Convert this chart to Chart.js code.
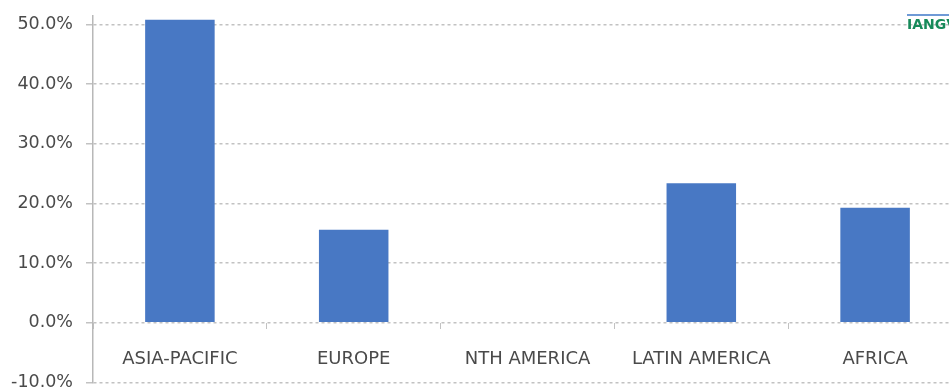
<!DOCTYPE html>
<html>
<head>
<meta charset="utf-8">
<title>Regional share</title>
<script src="https://cdn.jsdelivr.net/npm/chart.js@4.4.1/dist/chart.umd.min.js"></script>
<style>
  html, body { margin: 0; padding: 0; background: #ffffff; overflow: hidden; }
  #wrap { width: 975px; height: 414px; margin-top: -8px; }
</style>
</head>
<body>
<div id="wrap"><canvas id="c" width="975" height="414"></canvas></div>
<script>
// Regions along the horizontal axis
const regions = ['ASIA-PACIFIC', 'EUROPE', 'NTH AMERICA', 'LATIN AMERICA', 'AFRICA'];
// Share per region, in percent
const shares = [50.8, 15.6, 0, 23.4, 19.3];
// Value axis range and tick step, in percent
const axisMin = -10;
const axisMax = 51.5;
const tickStep = 10;

const GRID = '#c2c2c2';
const TEXT = '#4a4a4a';

// Small brand mark in the top-right corner (canvas is shifted up by 8px)
const brandMark = {
  id: 'brandMark',
  afterDraw(chart) {
    const ctx = chart.ctx;
    ctx.save();
    ctx.fillStyle = '#6f9ad6';
    ctx.fillRect(907, 22, 70, 2);
    ctx.fillStyle = '#178a5a';
    ctx.font = 'bold 14px "DejaVu Sans"';
    ctx.textAlign = 'left';
    ctx.textBaseline = 'alphabetic';
    ctx.fillText('IANGV', 907, 37);
    ctx.restore();
  }
};

new Chart(document.getElementById('c'), {
  type: 'bar',
  data: {
    labels: regions,
    datasets: [{
      data: shares,
      backgroundColor: '#4878c4',
      borderWidth: 0,
      categoryPercentage: 0.4,
      barPercentage: 1.0
    }]
  },
  options: {
    responsive: false,
    animation: false,
    layout: { padding: { top: 3.5, bottom: 7.5, left: 0, right: 13 } },
    plugins: { legend: { display: false }, tooltip: { enabled: false } },
    scales: {
      x: {
        type: 'category',
        position: { y: 0 },
        offset: true,
        border: { display: false },
        grid: {
          offset: true,
          drawOnChartArea: false,
          drawTicks: true,
          tickLength: 6,
          color: GRID,
          lineWidth: 1
        },
        ticks: {
          color: TEXT,
          padding: 20,
          maxRotation: 0,
          autoSkip: false,
          font: { family: '"DejaVu Sans"', size: 18 }
        }
      },
      y: {
        min: axisMin,
        max: axisMax,
        afterBuildTicks(scale) {
          const ticks = [];
          for (let v = axisMin; v <= axisMax + 1e-9; v += tickStep) ticks.push({ value: v });
          scale.ticks = ticks;
        },
        afterFit(scale) { scale.width = 93; },
        border: { display: true, color: '#b8b8b8', width: 1.5, dash: [3, 3] },
        grid: {
          color: GRID,
          lineWidth: 1.5,
          drawTicks: true,
          tickLength: 7
        },
        ticks: {
          stepSize: tickStep,
          color: TEXT,
          padding: 13,
          font: { family: '"DejaVu Sans"', size: 17.5 },
          callback: v => Number(v).toFixed(1) + '%'
        }
      }
    }
  },
  plugins: [brandMark]
});
</script>
</body>
</html>
